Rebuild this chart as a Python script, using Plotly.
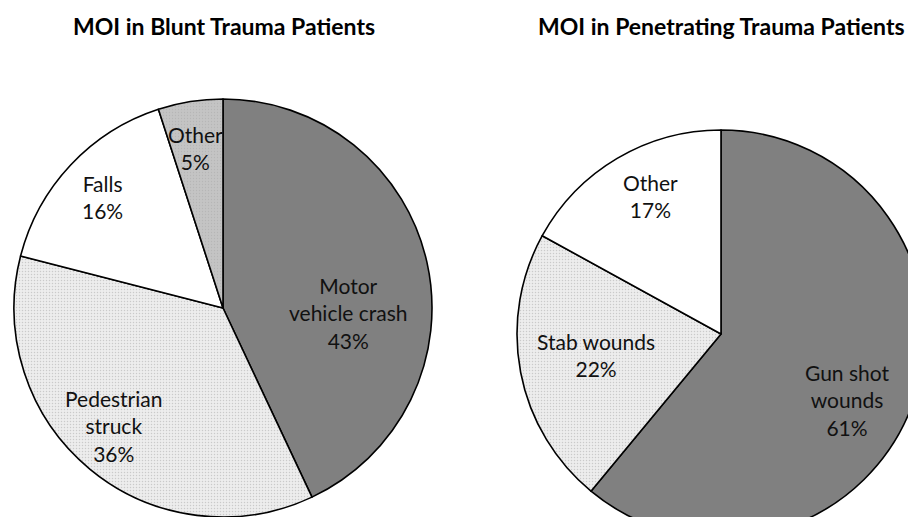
import plotly.graph_objects as go

# Data
blunt_labels = ["Motor<br>vehicle crash", "Pedestrian<br>struck", "Falls", "Other"]
blunt_values = [43, 36, 16, 5]
pen_labels = ["Gun shot<br>wounds", "Stab wounds", "Other"]
pen_values = [61, 22, 17]
titles = ["MOI in Blunt Trauma Patients", "MOI in Penetrating Trauma Patients"]

# Canvas slightly larger than the 908x517 window so the right pie is cropped like the reference
W, H = 930, 540
FONT = "Lato, Open Sans, sans-serif"

def px(x):
    return x / W

def py(y):
    return 1 - y / H

blunt_colors = ["#808080", "#ededed", "#ffffff", "#c4c4c4"]
blunt_patterns = ["", ".", "", "."]
pen_colors = ["#808080", "#ededed", "#ffffff"]
pen_patterns = ["", ".", ""]

fig = go.Figure()
fig.add_trace(go.Pie(
    labels=blunt_labels, values=blunt_values, sort=False, direction="clockwise",
    rotation=0, textinfo="none", hoverinfo="label+percent", showlegend=False,
    domain=dict(x=[px(14), px(432)], y=[py(517), py(99)]),
    marker=dict(colors=blunt_colors, line=dict(color="#000000", width=1.6),
                pattern=dict(shape=blunt_patterns, size=3, solidity=0.2,
                             fgcolor="#a8a8a8", fillmode="overlay")),
))
fig.add_trace(go.Pie(
    labels=pen_labels, values=pen_values, sort=False, direction="clockwise",
    rotation=0, textinfo="none", hoverinfo="label+percent", showlegend=False,
    domain=dict(x=[px(517), px(925)], y=[py(538), py(130)]),
    marker=dict(colors=pen_colors, line=dict(color="#000000", width=1.6),
                pattern=dict(shape=pen_patterns, size=3, solidity=0.2,
                             fgcolor="#a8a8a8", fillmode="overlay")),
))

annotations = []
for t, x in zip(titles, [224, 721]):
    annotations.append(dict(text=f"<b>{t}</b>", x=px(x), y=py(26), xref="paper", yref="paper",
                            xanchor="center", yanchor="middle", showarrow=False,
                            font=dict(family=FONT, size=23, color="#000")))

blunt_pos = [(348, 313), (113, 426), (102, 197), (195, 148)]
pen_pos = [(847, 400), (596, 355), (650, 196)]
for labs, vals, pos in [(blunt_labels, blunt_values, blunt_pos), (pen_labels, pen_values, pen_pos)]:
    for l, v, (x, y) in zip(labs, vals, pos):
        annotations.append(dict(text=f"{l}<br>{v}%", x=px(x), y=py(y), xref="paper", yref="paper",
                                xanchor="center", yanchor="middle", showarrow=False, align="center",
                                font=dict(family=FONT, size=21, color="#111")))

fig.update_layout(
    width=W, height=H, margin=dict(l=0, r=0, t=0, b=0),
    paper_bgcolor="#ffffff", plot_bgcolor="#ffffff",
    annotations=annotations,
)

fig.write_html(
    "out.html",
    config={"displayModeBar": False},
    post_script="document.body.style.margin='0px';document.body.style.overflow='hidden';",
)
